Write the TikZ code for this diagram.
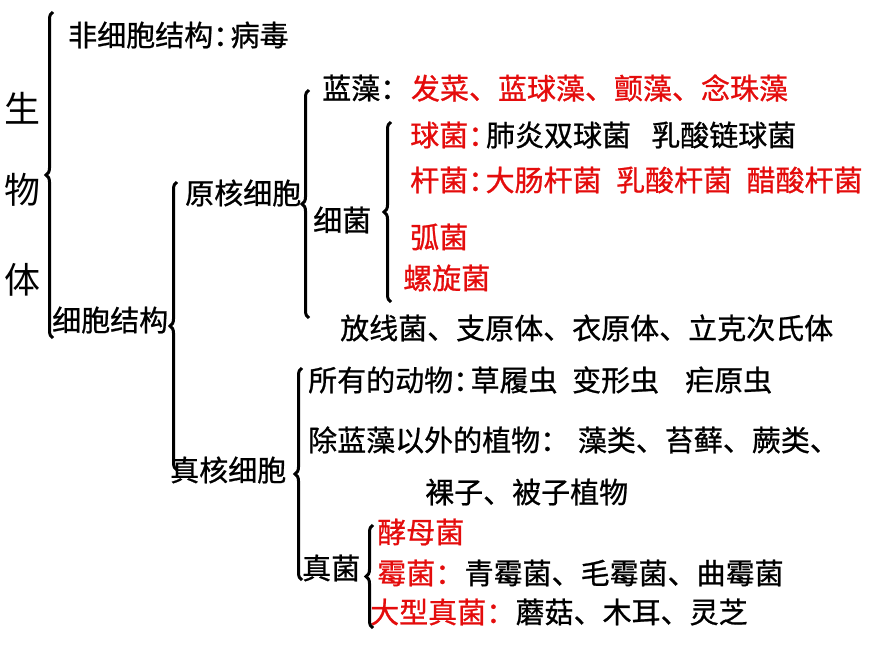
\documentclass[tikz,border=0pt]{standalone}
\usepackage{fontspec}
\setmainfont{Noto Sans CJK SC}[FakeBold=0.8]
\newfontfamily\plainhei{Noto Sans CJK SC}
\usepackage{tikz}
\usetikzlibrary{positioning, decorations.pathreplacing}
\definecolor{myred}{RGB}{228,12,12}
\tikzset{
  txt/.style={anchor=west, inner sep=0pt, font=\fontsize{29}{29}\selectfont},
  redtxt/.style={txt, text=myred},
  bigtxt/.style={anchor=west, inner sep=0pt, font=\plainhei\fontsize{36}{36}\selectfont},
  brc/.style={decorate, decoration={brace, amplitude=7pt}, line width=3pt}
}
\newcommand{\mh}{\makebox[0.6em][l]{：}}

\begin{document}
\begin{tikzpicture}[x=1pt, y=-1pt]
  \useasboundingbox (0,0) rectangle (870,653);

  % Root
  \node[bigtxt] (sheng) at (4,108) {生};
  \node[bigtxt] (wu) at (4,190) {物};
  \node[bigtxt] (ti) at (4,280) {体};

  % First level
  \node[txt] (feixibao) at (68,35) {非细胞结构\mh 病毒};
  \node[txt] (xibao) at (52,320) {细胞结构};
  \node[txt] (yuanhe) at (185,193) {原核细胞};
  \node[txt] (zhenhe) at (170,470) {真核细胞};

  % Prokaryotes
  \node[txt] (lanzao) at (322,88) {蓝藻\mh};
  \node[redtxt, right=13pt of lanzao] (lanzaolist) {发菜、蓝球藻、颤藻、念珠藻};
  \node[txt] (xijun) at (313,220) {细菌};
  \node[redtxt] (qiujun) at (410,135) {球菌\mh};
  \node[txt, right=0pt of qiujun] (qiujunlist) {肺炎双球菌\hspace{0.7em}乳酸链球菌};
  \node[redtxt] (ganjun) at (410,180) {杆菌\mh 大肠杆菌\hspace{0.5em}乳酸杆菌\hspace{0.5em}醋酸杆菌};
  \node[redtxt] (hujun) at (410,237) {弧菌};
  \node[redtxt] (luoxuan) at (403,278) {螺旋菌};
  \node[txt] (fangxian) at (340,328) {放线菌、支原体、衣原体、立克次氏体};

  % Eukaryotes
  \node[txt] (dongwu) at (308,380) {所有的动物\mh 草履虫\hspace{0.5em}变形虫\hspace{0.9em}疟原虫};
  \node[txt] (zhiwu) at (308,440) {除蓝藻以外的植物：\hspace{0.3em}藻类、苔藓、蕨类、};
  \node[txt] (luozi) at (425,492) {裸子、被子植物};
  \node[txt] (zhenjun) at (302,568) {真菌};
  \node[redtxt] (jiaomu) at (377,532) {酵母菌};
  \node[redtxt] (meijun) at (377,573) {霉菌：};
  \node[txt, right=0pt of meijun] (meijunlist) {青霉菌、毛霉菌、曲霉菌};
  \node[redtxt] (daxing) at (370,612) {大型真菌：};
  \node[txt, right=0pt of daxing] (daxinglist) {蘑菇、木耳、灵芝};

  % Braces
  \coordinate (b1top) at (53,12);   \coordinate (b1bot) at (53,338);
  \coordinate (b2top) at (177,182); \coordinate (b2bot) at (177,470);
  \coordinate (b3top) at (309,90);  \coordinate (b3bot) at (309,318);
  \coordinate (b4top) at (391,122); \coordinate (b4bot) at (391,302);
  \coordinate (b5top) at (302,368); \coordinate (b5bot) at (302,580);
  \coordinate (b6top) at (373,525); \coordinate (b6bot) at (373,628);
  \draw[brc] (b1bot) -- (b1top);
  \draw[brc] (b2bot) -- (b2top);
  \draw[brc] (b3bot) -- (b3top);
  \draw[brc] (b4bot) -- (b4top);
  \draw[brc] (b5bot) -- (b5top);
  \draw[brc] (b6bot) -- (b6top);
\end{tikzpicture}
\end{document}
